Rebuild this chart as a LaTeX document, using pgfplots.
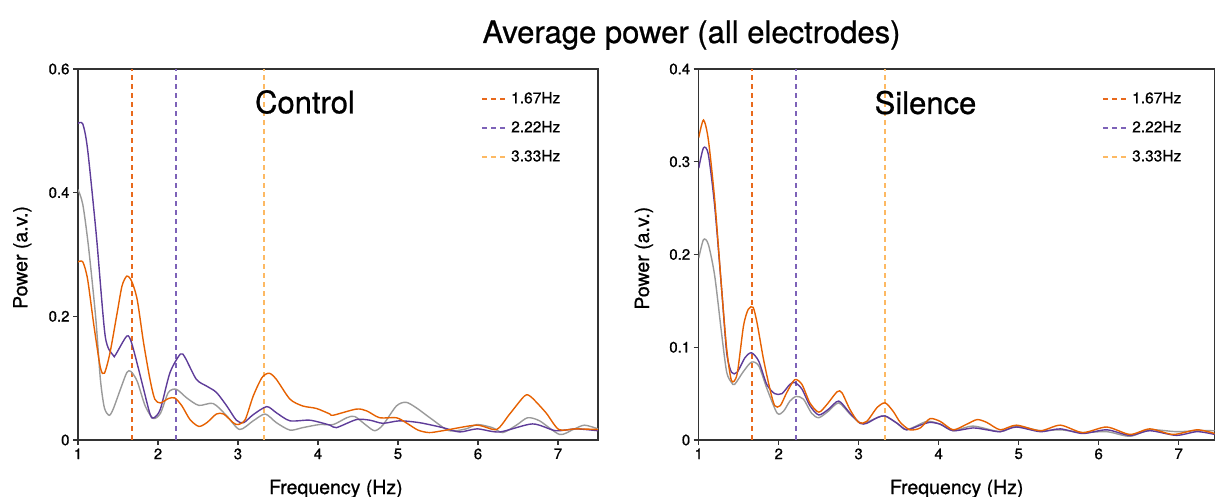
\documentclass[border=0pt]{standalone}
\usepackage{pgfplots}
\pgfplotsset{compat=1.18}
\usepackage{fontspec}
\setmainfont{TeX Gyre Heros}[FakeBold=0.8]
\definecolor{corange}{HTML}{E66101}
\definecolor{cpurple}{HTML}{5E3C99}
\definecolor{cgray}{HTML}{9A9A9A}
\definecolor{dorange}{HTML}{E8691C}
\definecolor{dpurple}{HTML}{7D62B8}
\definecolor{dlight}{HTML}{FDB963}
\definecolor{axc}{HTML}{333333}
\pgfplotsset{
  panel/.style={
    scale only axis, height=371bp, ymin=0,
    xmin=1, xtick={1,2,3,4,5,6,7},
    axis line style={draw=axc, line width=1.2bp},
    tick pos=left, tick align=outside,
    major tick length=5bp,
    tick style={draw=axc, line width=1.1bp},
    /pgf/number format/assume math mode=true,
    tick label style={font=\fontsize{15bp}{18bp}\selectfont, text=black},
    label style={font=\fontsize{19.5bp}{22bp}\selectfont},
    xlabel={Frequency (Hz)}, ylabel={Power (a.v.)},
    legend style={draw=none, fill=none, inner sep=0pt, row sep=11bp,
      font=\fontsize{15.5bp}{18bp}\selectfont,
      nodes={inner sep=2bp, text height=11bp, text depth=3bp}},
    legend cell align=left,
  },
  dline/.style={line width=2bp, dash pattern=on 5bp off 4bp},
  dataline/.style={line width=1.4bp, smooth, tension=0.45, forget plot},
}
\begin{document}
\begin{tikzpicture}
\path[use as bounding box] (0,0) rectangle (1215bp,497bp);
\node[anchor=base, font=\fontsize{31bp}{36bp}\selectfont] at (691.5bp,454bp) {Average power (all electrodes)};
% ---------------- Control ----------------
\begin{axis}[panel, at={(78bp,57bp)}, anchor=south west, width=520bp,
  xmax=7.5, ymax=0.6, ytick={0,0.2,0.4,0.6},
  xlabel style={at={(axis description cs:0.496,0)}, anchor=base, yshift=-54bp},
  ylabel style={at={(axis description cs:-0.0975,0.492)}, anchor=base},
  legend style={at={(axis description cs:0.775,0.943)}, anchor=north west}]
\addplot[draw=dorange, dline, legend image code/.code={\draw[dorange, line width=2bp, dash pattern=on 5bp off 4bp] (0bp,0bp) -- (26bp,0bp);}] coordinates {(1.67,0) (1.67,0.6)};
\addlegendentry{1.67Hz}
\addplot[draw=dpurple, dline, legend image code/.code={\draw[dpurple, line width=2bp, dash pattern=on 5bp off 4bp] (0bp,0bp) -- (26bp,0bp);}] coordinates {(2.22,0) (2.22,0.6)};
\addlegendentry{2.22Hz}
\addplot[draw=dlight, dline, legend image code/.code={\draw[dlight, line width=2bp, dash pattern=on 5bp off 4bp] (0bp,0bp) -- (26bp,0bp);}] coordinates {(3.33,0) (3.33,0.6)};
\addlegendentry{3.33Hz}
\addplot[cgray, dataline] coordinates {
(1.0,0.405) (1.06,0.381) (1.13,0.314) (1.22,0.20) (1.28,0.098) (1.33,0.052) (1.39,0.040) (1.44,0.050) (1.53,0.082) (1.61,0.109) (1.66,0.111) (1.74,0.095) (1.84,0.055) (1.94,0.035) (2.03,0.043) (2.13,0.077) (2.23,0.082) (2.36,0.068) (2.51,0.056) (2.69,0.059) (2.86,0.039) (3.02,0.017) (3.19,0.031) (3.34,0.042) (3.48,0.028) (3.65,0.016) (3.81,0.020) (4.02,0.025) (4.19,0.025) (4.36,0.036) (4.46,0.038) (4.61,0.023) (4.71,0.015) (4.81,0.024) (4.98,0.055) (5.10,0.061) (5.23,0.052) (5.43,0.033) (5.64,0.015) (5.85,0.018) (5.99,0.025) (6.18,0.020) (6.31,0.012) (6.48,0.024) (6.62,0.036) (6.77,0.031) (7.02,0.009) (7.19,0.017) (7.33,0.024) (7.5,0.018)};
\addplot[cpurple, dataline] coordinates {
(1.00,0.512) (1.06,0.511) (1.12,0.47) (1.23,0.33) (1.34,0.168) (1.44,0.137) (1.47,0.138) (1.61,0.168) (1.67,0.157) (1.78,0.103) (1.90,0.042) (1.95,0.036) (2.03,0.05) (2.15,0.109) (2.28,0.139) (2.34,0.133) (2.48,0.098) (2.61,0.087) (2.73,0.077) (2.86,0.055) (2.98,0.032) (3.07,0.028) (3.19,0.041) (3.36,0.054) (3.48,0.044) (3.65,0.031) (3.90,0.032) (4.15,0.024) (4.23,0.020) (4.48,0.033) (4.65,0.032) (4.81,0.027) (5.02,0.031) (5.27,0.028) (5.56,0.020) (5.77,0.013) (5.99,0.018) (6.27,0.013) (6.68,0.026) (6.97,0.015) (7.22,0.018) (7.5,0.015)};
\addplot[corange, dataline] coordinates {
(1.00,0.288) (1.06,0.288) (1.12,0.26) (1.20,0.184) (1.28,0.117) (1.33,0.108) (1.40,0.141) (1.49,0.206) (1.55,0.249) (1.61,0.265) (1.67,0.257) (1.74,0.227) (1.82,0.157) (1.90,0.098) (1.96,0.066) (2.03,0.060) (2.13,0.067) (2.21,0.068) (2.30,0.055) (2.40,0.033) (2.51,0.022) (2.61,0.028) (2.73,0.042) (2.82,0.042) (2.94,0.028) (3.00,0.025) (3.09,0.033) (3.19,0.071) (3.30,0.101) (3.39,0.108) (3.48,0.098) (3.65,0.066) (3.81,0.055) (3.98,0.051) (4.15,0.042) (4.19,0.040) (4.48,0.050) (4.61,0.047) (4.77,0.036) (4.98,0.036) (5.10,0.028) (5.25,0.016) (5.39,0.012) (5.56,0.015) (5.98,0.024) (6.23,0.017) (6.39,0.041) (6.58,0.071) (6.66,0.070) (6.85,0.044) (7.01,0.017) (7.22,0.018) (7.5,0.017)};
\node[anchor=base, font=\fontsize{31bp}{36bp}\selectfont] at (axis description cs:0.4365,0.8806) {Control};
\end{axis}
% ---------------- Silence ----------------
\begin{axis}[panel, at={(698.7bp,57bp)}, anchor=south west, width=516bp,
  xmax=7.45, ymax=0.4, ytick={0,0.1,0.2,0.3,0.4},
  xlabel style={at={(axis description cs:0.50,0)}, anchor=base, yshift=-54bp},
  ylabel style={at={(axis description cs:-0.0963,0.490)}, anchor=base},
  legend style={at={(axis description cs:0.7816,0.943)}, anchor=north west}]
\addplot[draw=dorange, dline, legend image code/.code={\draw[dorange, line width=2bp, dash pattern=on 5bp off 4bp] (0bp,0bp) -- (26bp,0bp);}] coordinates {(1.67,0) (1.67,0.4)};
\addlegendentry{1.67Hz}
\addplot[draw=dpurple, dline, legend image code/.code={\draw[dpurple, line width=2bp, dash pattern=on 5bp off 4bp] (0bp,0bp) -- (26bp,0bp);}] coordinates {(2.22,0) (2.22,0.4)};
\addlegendentry{2.22Hz}
\addplot[draw=dlight, dline, legend image code/.code={\draw[dlight, line width=2bp, dash pattern=on 5bp off 4bp] (0bp,0bp) -- (26bp,0bp);}] coordinates {(3.33,0) (3.33,0.4)};
\addlegendentry{3.33Hz}
\addplot[cgray, dataline] coordinates {
(1.00,0.196) (1.06,0.216) (1.12,0.211) (1.20,0.177) (1.29,0.112) (1.35,0.073) (1.41,0.062) (1.45,0.060) (1.56,0.074) (1.66,0.084) (1.75,0.080) (1.85,0.056) (1.98,0.029) (2.06,0.031) (2.14,0.042) (2.22,0.047) (2.31,0.044) (2.41,0.029) (2.50,0.024) (2.62,0.031) (2.75,0.040) (2.89,0.028) (3.02,0.018) (3.10,0.019) (3.31,0.026) (3.48,0.018) (3.60,0.011) (3.85,0.020) (4.02,0.017) (4.18,0.010) (4.43,0.015) (4.77,0.009) (4.97,0.015) (5.27,0.010) (5.52,0.011) (5.80,0.008) (6.10,0.009) (6.39,0.004) (6.64,0.011) (6.97,0.009) (7.23,0.010) (7.45,0.010)};
\addplot[cpurple, dataline] coordinates {
(1.00,0.293) (1.06,0.315) (1.12,0.308) (1.20,0.252) (1.29,0.159) (1.35,0.094) (1.41,0.073) (1.48,0.073) (1.58,0.089) (1.66,0.094) (1.75,0.085) (1.85,0.060) (1.95,0.050) (2.04,0.050) (2.14,0.060) (2.20,0.062) (2.29,0.055) (2.39,0.037) (2.50,0.027) (2.62,0.033) (2.75,0.042) (2.89,0.029) (3.02,0.018) (3.10,0.018) (3.23,0.024) (3.33,0.026) (3.48,0.018) (3.60,0.011) (3.77,0.016) (3.89,0.019) (4.02,0.017) (4.18,0.010) (4.43,0.013) (4.60,0.011) (4.77,0.009) (4.97,0.014) (5.27,0.009) (5.52,0.012) (5.80,0.007) (6.10,0.011) (6.39,0.005) (6.64,0.010) (6.97,0.005) (7.23,0.009) (7.45,0.006)};
\addplot[corange, dataline] coordinates {
(1.00,0.326) (1.06,0.345) (1.12,0.324) (1.20,0.259) (1.29,0.159) (1.35,0.098) (1.41,0.064) (1.48,0.071) (1.56,0.123) (1.62,0.141) (1.68,0.143) (1.73,0.126) (1.81,0.087) (1.89,0.055) (1.95,0.037) (2.02,0.037) (2.10,0.051) (2.20,0.065) (2.29,0.060) (2.39,0.040) (2.50,0.030) (2.60,0.038) (2.73,0.052) (2.79,0.051) (2.89,0.033) (3.00,0.019) (3.10,0.020) (3.23,0.035) (3.33,0.040) (3.43,0.031) (3.52,0.019) (3.64,0.011) (3.77,0.013) (3.89,0.023) (4.02,0.020) (4.18,0.011) (4.35,0.017) (4.48,0.022) (4.60,0.019) (4.77,0.011) (4.97,0.016) (5.27,0.010) (5.52,0.016) (5.80,0.008) (6.10,0.014) (6.39,0.006) (6.64,0.012) (6.93,0.006) (7.23,0.011) (7.45,0.007)};
\node[anchor=base, font=\fontsize{31bp}{36bp}\selectfont] at (axis description cs:0.4395,0.879) {Silence};
\end{axis}
\end{tikzpicture}
\end{document}
